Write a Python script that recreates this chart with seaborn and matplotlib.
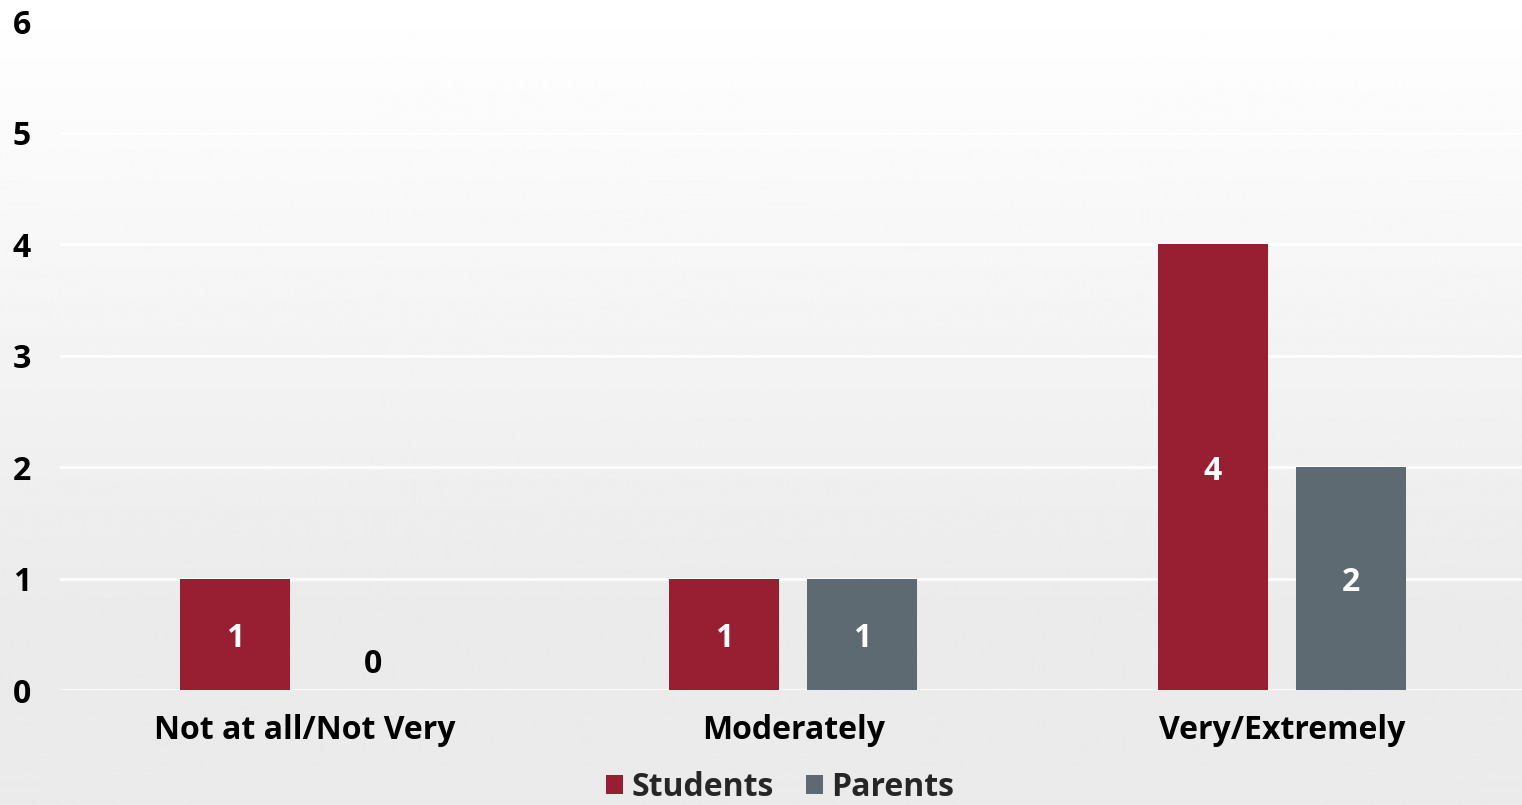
import numpy as np
import pandas as pd
import matplotlib
matplotlib.use("Agg")
import matplotlib.pyplot as plt
import seaborn as sns
from matplotlib.patches import Patch

categories = ["Not at all/Not Very", "Moderately", "Very/Extremely"]
students = [1, 1, 4]
parents = [0, 1, 2]
series_names = ["Students", "Parents"]
colors = ["#981E32", "#5E6A71"]
yticks = [0, 1, 2, 3, 4, 5, 6]

sns.set_theme(style="white")
plt.rcParams["font.family"] = ["Open Sans", "DejaVu Sans"]
plt.rcParams["font.weight"] = "bold"
FS = 23

df = pd.DataFrame({
    "category": categories * 2,
    "value": students + parents,
    "group": [series_names[0]] * 3 + [series_names[1]] * 3,
})

fig = plt.figure(figsize=(15.22, 8.05), dpi=100)

# background gradient
bg = fig.add_axes([0, 0, 1, 1], zorder=-10)
h = 805
rows = np.arange(h)
frac = np.clip(rows / 600.0, 0, 1)
vals = 1.0 - frac * (1.0 - 0xEB / 255.0)
grad = np.repeat(vals[:, None], 2, axis=1)
bg.imshow(grad, aspect="auto", cmap="gray", vmin=0, vmax=1, extent=[0, 1, 0, 1], origin="upper")
bg.axis("off")

ax = fig.add_axes([60 / 1522, 115 / 805, 1466.5 / 1522, (690 - 21) / 805])
ax.set_facecolor("none")

sns.barplot(data=df, x="category", y="value", hue="group", palette=colors,
            saturation=1, width=0.565, gap=0.204, ax=ax, legend=False, zorder=3,
            edgecolor=None, linewidth=0)

for i, cont in enumerate(ax.containers):
    for bar in cont:
        v = bar.get_height()
        if v > 0:
            ax.text(bar.get_x() + bar.get_width() / 2, v / 2, f"{int(v)}",
                    ha="center", va="center_baseline", color="white", fontsize=FS,
                    fontweight="bold", zorder=5)
        else:
            ax.annotate(f"{int(v)}", (bar.get_x() + bar.get_width() / 2, 0),
                        xytext=(0, 21.5), textcoords="offset points",
                        ha="center", va="center_baseline", color="black", fontsize=FS,
                        fontweight="bold", zorder=5)

ax.set_ylim(0, 6)
ax.set_xlim(-0.5, 2.5)
ax.set_yticks(yticks)
ax.set_yticklabels([str(t) for t in yticks], fontsize=FS, fontweight="bold", color="black")
ax.tick_params(axis="y", length=0, pad=21)
ax.tick_params(axis="x", length=0, pad=17, labelsize=FS, labelcolor="black")
for lbl in ax.get_xticklabels():
    lbl.set_fontweight("bold")
ax.set_xlabel("")
ax.set_ylabel("")
ax.grid(axis="y", color="white", linewidth=2, zorder=1)
ax.grid(axis="x", visible=False)
ax.set_axisbelow(True)
for s in ax.spines.values():
    s.set_visible(False)

handles = [Patch(facecolor=c, edgecolor="none") for c in colors]
fig.legend(handles, series_names, loc="center", bbox_to_anchor=(0.5125, 0.022),
           ncol=2, frameon=False, handlelength=0.55, handleheight=0.55,
           handletextpad=0.25, columnspacing=1.0, borderpad=0,
           prop={"weight": "bold", "size": FS})

fig.savefig("out.png", dpi=100)
